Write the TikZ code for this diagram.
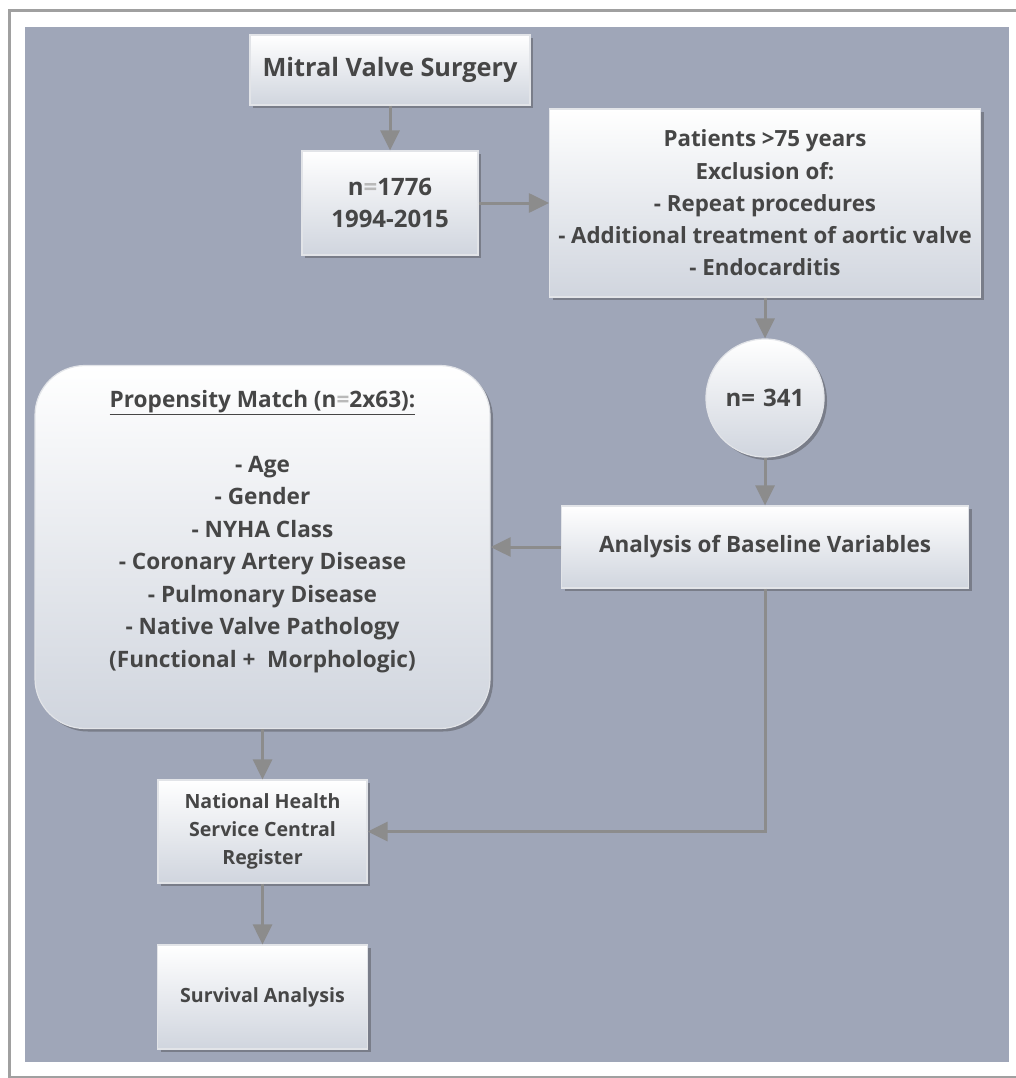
\documentclass[tikz,border=0pt]{standalone}
\usepackage{fontspec}
\setmainfont{Open Sans}
\usetikzlibrary{shadows,arrows.meta}
\definecolor{bgcol}{RGB}{159,166,184}
\definecolor{framecol}{RGB}{160,160,160}
\definecolor{txtcol}{RGB}{70,70,70}
\definecolor{boxbot}{RGB}{208,213,222}
\definecolor{boxedge}{RGB}{226,228,232}
\definecolor{arrcol}{RGB}{140,140,140}
\definecolor{eqcol}{RGB}{185,185,185}
\begin{document}
\begin{tikzpicture}[x=1pt,y=-1pt,
  fbox/.style={rectangle, draw=boxedge, line width=1.2pt, top color=white, bottom color=boxbot,
    drop shadow={shadow xshift=3pt, shadow yshift=-3pt, opacity=0.35, fill=black!80},
    text=txtcol, align=center, inner sep=0pt},
  flow/.style={draw=arrcol, line width=3pt, -{Triangle[length=20pt,width=19pt]}},
  txtbig/.style={font={\fontsize{25.3}{30}\selectfont\bfseries}},
  txtnum/.style={font={\fontsize{24}{32}\selectfont\bfseries}},
  txtpat/.style={font={\fontsize{22.3}{32.3}\selectfont\bfseries}},
  txtprop/.style={font={\fontsize{22.6}{32.5}\selectfont\bfseries}},
  txtana/.style={font={\fontsize{22.5}{30}\selectfont\bfseries}},
  txtsml/.style={font={\fontsize{19.6}{28}\selectfont\bfseries}}
]
\useasboundingbox (0,0) rectangle (1016,1078);
\clip (0,0) rectangle (1016,1078);
\fill[white] (0,0) rectangle (1016,1078);
\draw[framecol, line width=3pt] (9.5,11) rectangle (1040,1077.5);
\fill[bgcol] (25,27) rectangle (1009,1062);

\node[fbox, txtbig, minimum width=280pt, minimum height=70pt] (mvs) at (390,70) {Mitral Valve Surgery};
\node[fbox, txtnum, minimum width=176pt, minimum height=104pt] (n1776) at (390,203)
  {n{\color{eqcol}=}1776\\1994-2015};
\node[fbox, txtpat, minimum width=431pt, minimum height=188pt] (patients) at (765,203)
  {Patients >75 years\\Exclusion of:\\- Repeat procedures\\- Additional treatment of aortic valve\\- Endocarditis};
\node[fbox, txtnum, circle, minimum size=118pt] (n341) at (765,398) {n=\,\,341};
\node[fbox, txtana, minimum width=407pt, minimum height=82pt] (analysis) at (765,547) {Analysis of Baseline Variables};
\node[fbox, rounded corners=50pt, minimum width=455pt, minimum height=363pt] (prop) at (262.5,547) {};
\node[txtprop, text=txtcol, align=center, inner sep=0pt] (proptext) at (262.5,531.5)
  {\underline{Propensity Match (n{\color{eqcol}=}2x63):}\\[32.5pt]- Age\\- Gender\\- NYHA Class\\- Coronary Artery Disease\\- Pulmonary Disease\\- Native Valve Pathology\\(Functional +\ \ Morphologic)};
\node[fbox, txtsml, minimum width=209pt, minimum height=103pt] (national) at (262.5,831.5)
  {National Health\\Service Central\\Register};
\node[fbox, txtsml, minimum width=210pt, minimum height=104pt] (survival) at (262.5,997) {Survival Analysis};

\draw[flow] (mvs.south) -- (n1776.north);
\draw[flow] (n1776.east) -- (patients.west);
\draw[flow] (patients.south) -- (n341.north);
\draw[flow] (n341.south) -- (analysis.north);
\draw[flow] (analysis.west) -- (prop.east);
\draw[flow] (prop.south) -- (national.north);
\draw[flow] (analysis.south) |- (national.east);
\draw[flow] (national.south) -- (survival.north);
\end{tikzpicture}
\end{document}
